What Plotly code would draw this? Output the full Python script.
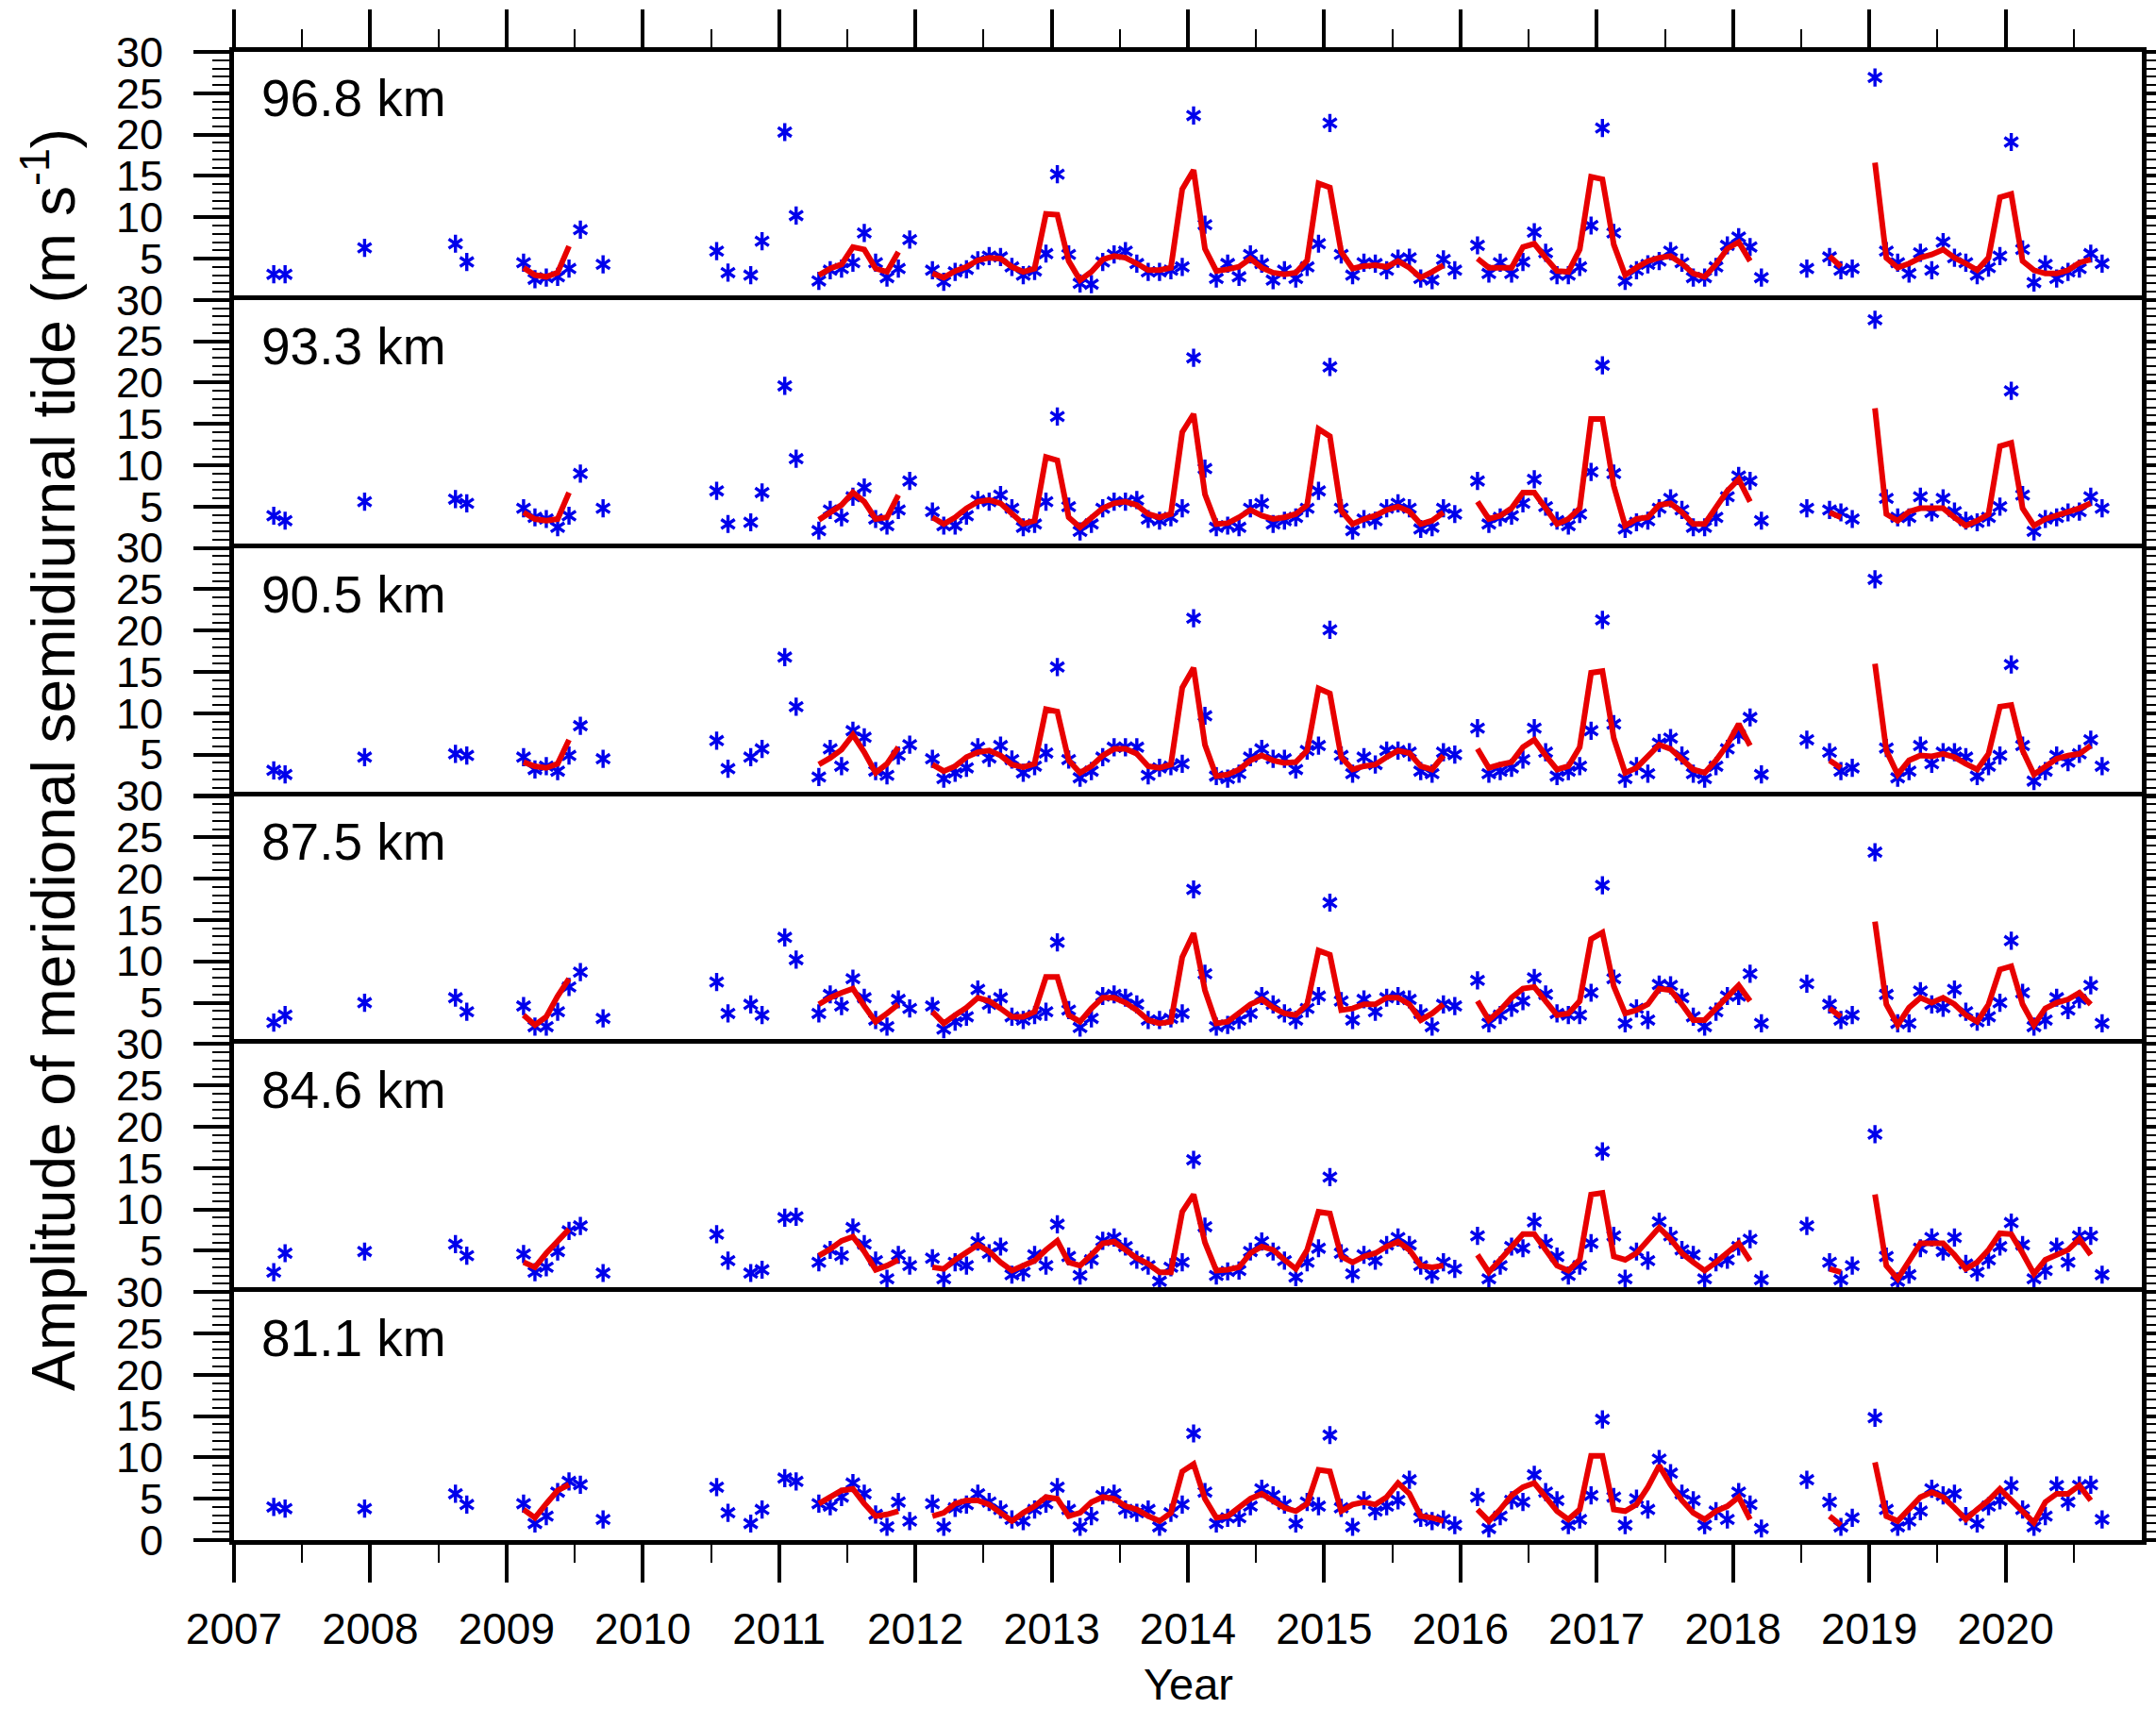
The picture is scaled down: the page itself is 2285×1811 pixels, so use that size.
import plotly.graph_objects as go

FONT = "Liberation Sans, Arial, Helvetica, sans-serif"
STAR_COLOR = "rgb(0,0,235)"
LINE_COLOR = "rgb(232,0,0)"

HEIGHTS = ["96.8 km", "93.3 km", "90.5 km", "87.5 km", "84.6 km", "81.1 km"]
YEARS = list(range(2007, 2021))
HALF_YEARS = [y + 0.5 for y in range(2007, 2021)]
Y_TICKS = [0, 5, 10, 15, 20, 25, 30]

# (year, month) of every monthly amplitude estimate
STAR_MONTHS = (
    [(2007, 4), (2007, 5), (2007, 12), (2008, 8), (2008, 9)]
    + [(2009, m) for m in (2, 3, 4, 5, 6, 7, 9)]
    + [(2010, 7), (2010, 8), (2010, 10), (2010, 11), (2011, 1), (2011, 2)]
    + [(2011, m) for m in range(4, 13)]
    + [(2012, m) for m in range(2, 13)]
    + [(y, m) for y in (2013, 2014, 2015) for m in range(1, 13)]
    + [(2016, m) for m in range(2, 13)]
    + [(2017, m) for m in range(1, 13)]
    + [(2018, 1), (2018, 2), (2018, 3), (2018, 7), (2018, 9), (2018, 10), (2018, 11)]
    + [(2019, m) for m in range(1, 13)]
    + [(2020, m) for m in range(1, 10)]
)

# continuous stretches of the smoothed curve
RED_SEGMENTS = [
    [(2009, m) for m in range(2, 7)],
    [(2011, m) for m in range(4, 12)],
    [(2012, m) for m in range(2, 13)]
    + [(y, m) for y in (2013, 2014) for m in range(1, 13)]
    + [(2015, m) for m in range(1, 12)],
    [(2016, m) for m in range(2, 13)] + [(2017, m) for m in range(1, 13)] + [(2018, 1), (2018, 2)],
    [(2018, 9), (2018, 10)],
    [(2019, m) for m in range(1, 13)] + [(2020, m) for m in range(1, 9)],
]

# monthly amplitudes (m/s), one list per height
STARS_968 = [
    3.1, 3.1, 6.3, 6.8, 4.6,
    4.5, 2.5, 2.7, 2.8, 3.8, 8.5, 4.3,
    5.9, 3.3, 3.0, 7.1, 20.3, 10.2,
    2.3, 3.6, 3.8, 4.5, 8.1, 4.5, 2.7, 3.8, 7.3,
    3.6, 2.2, 3.4, 3.7, 4.8, 5.3, 5.2, 4.0, 3.0, 3.5, 5.6,
    15.2, 5.5, 2.0, 1.9, 4.6, 5.5, 5.9, 4.4, 3.4, 3.4, 3.6, 4.0,
    22.3, 9.1, 2.6, 4.4, 2.8, 5.5, 4.4, 2.4, 3.6, 2.6, 4.0, 6.8,
    21.4, 5.5, 3.0, 4.5, 4.4, 3.6, 5.0, 5.1, 2.6, 2.4, 4.9, 3.6,
    6.6, 3.2, 4.5, 3.2, 4.6, 8.2, 5.7, 3.0, 3.0, 4.0, 9.0,
    20.8, 8.1, 2.3, 3.6, 4.3, 4.7, 5.9, 4.5, 2.7, 2.7, 4.0, 6.6,
    7.6, 6.4, 2.7, 3.8, 5.2, 3.6, 3.8,
    26.9, 5.9, 4.5, 3.2, 5.7, 3.6, 7.0, 5.1, 4.5, 3.0, 3.9, 5.3,
    19.1, 6.1, 2.1, 4.3, 2.6, 3.4, 3.8, 5.6, 4.4,
]
STARS_933 = [
    3.9, 3.3, 5.6, 5.9, 5.4,
    4.8, 3.7, 3.5, 2.5, 3.9, 9.0, 4.8,
    6.9, 2.9, 3.1, 6.7, 19.6, 10.8,
    2.1, 4.6, 3.7, 6.2, 7.3, 3.5, 2.7, 4.6, 8.1,
    4.4, 2.7, 2.7, 3.9, 5.8, 5.6, 6.4, 4.8, 2.5, 2.9, 5.6,
    15.9, 5.0, 2.0, 2.9, 4.8, 5.6, 5.6, 5.8, 3.5, 3.3, 3.7, 4.8,
    23.0, 9.6, 2.5, 2.7, 2.5, 4.8, 5.4, 2.9, 3.3, 3.7, 4.8, 6.9,
    21.9, 4.8, 2.1, 3.5, 3.3, 4.8, 5.4, 4.8, 2.3, 2.5, 4.8, 4.1,
    8.1, 2.9, 3.7, 3.9, 5.4, 8.3, 5.0, 3.3, 2.7, 4.1, 9.2,
    22.1, 9.0, 2.3, 3.1, 3.3, 4.8, 6.0, 4.6, 2.5, 2.5, 3.7, 6.2,
    8.7, 8.1, 3.3, 4.8, 4.6, 4.3, 3.5,
    27.6, 6.0, 3.7, 3.7, 6.2, 4.3, 6.0, 4.4, 3.3, 3.1, 3.7, 5.0,
    19.0, 6.4, 2.0, 3.5, 3.7, 4.3, 4.4, 6.2, 4.8,
]
STARS_905 = [
    3.1, 2.6, 4.7, 5.1, 4.9,
    4.7, 3.2, 3.6, 3.0, 4.9, 8.5, 4.5,
    6.7, 3.3, 4.7, 5.7, 16.8, 10.8,
    2.3, 5.7, 3.6, 7.9, 7.1, 3.0, 2.5, 4.9, 6.2,
    4.5, 2.1, 2.8, 3.4, 5.9, 4.6, 6.1, 4.4, 2.8, 3.6, 5.2,
    15.6, 4.4, 2.2, 3.0, 4.7, 5.9, 5.9, 5.9, 2.5, 3.4, 3.6, 3.9,
    21.5, 9.7, 2.4, 2.1, 2.7, 4.7, 5.7, 4.5, 4.5, 3.2, 5.5, 6.1,
    20.1, 4.9, 2.7, 4.7, 3.8, 5.5, 5.5, 5.3, 3.0, 2.7, 5.3, 5.0,
    8.2, 2.7, 3.0, 3.4, 4.4, 8.2, 5.3, 2.4, 3.0, 3.6, 7.9,
    21.3, 8.7, 2.1, 3.6, 2.7, 6.4, 7.0, 4.9, 2.7, 2.1, 3.6, 5.7,
    7.4, 9.5, 2.6, 6.8, 5.3, 3.0, 3.4,
    26.2, 5.8, 2.2, 3.0, 6.1, 3.9, 5.3, 5.3, 4.7, 2.4, 3.6, 4.9,
    15.9, 6.1, 1.8, 3.0, 4.9, 4.1, 5.1, 6.8, 3.6,
]
STARS_875 = [
    2.6, 3.5, 5.0, 5.6, 3.9,
    4.6, 2.1, 2.1, 3.9, 6.9, 8.7, 3.1,
    7.5, 3.7, 4.8, 3.5, 12.9, 10.2,
    3.7, 6.0, 4.6, 7.9, 5.6, 2.9, 2.1, 5.4, 4.3,
    4.6, 1.8, 2.7, 3.3, 6.6, 4.8, 5.6, 3.3, 2.9, 3.5, 3.9,
    12.3, 4.1, 2.0, 3.1, 5.8, 6.0, 5.6, 4.8, 2.9, 2.9, 3.1, 3.7,
    18.7, 8.5, 2.1, 2.3, 2.9, 3.7, 5.8, 4.8, 3.7, 2.9, 4.3, 5.8,
    17.1, 5.2, 2.9, 5.4, 3.9, 5.6, 5.8, 5.4, 3.7, 2.1, 4.8, 4.6,
    7.7, 2.5, 3.5, 4.4, 5.2, 8.0, 6.0, 3.7, 3.5, 3.5, 6.2,
    19.2, 7.9, 2.5, 4.3, 2.9, 7.2, 7.1, 5.6, 3.3, 2.1, 3.9, 5.8,
    5.8, 8.5, 2.5, 7.3, 4.8, 2.9, 3.5,
    23.2, 6.0, 2.5, 2.5, 6.4, 4.8, 4.4, 6.6, 3.9, 2.7, 3.3, 5.0,
    12.5, 6.2, 2.1, 2.9, 5.6, 4.1, 5.4, 7.1, 2.5,
]
STARS_846 = [
    2.4, 4.7, 4.9, 5.8, 4.4,
    4.6, 2.4, 3.0, 4.9, 7.4, 8.0, 2.3,
    7.0, 3.8, 2.3, 2.7, 9.0, 9.1,
    3.6, 5.1, 4.4, 7.8, 5.8, 3.8, 1.6, 4.5, 3.2,
    4.1, 1.6, 3.6, 3.2, 6.1, 4.7, 5.5, 2.1, 2.4, 4.5, 3.2,
    8.2, 4.3, 2.0, 3.9, 6.2, 6.6, 5.5, 3.9, 3.2, 1.3, 3.0, 3.6,
    16.0, 7.9, 2.0, 2.5, 2.6, 4.9, 6.1, 4.9, 3.8, 1.8, 3.6, 5.3,
    13.9, 4.7, 2.2, 4.5, 3.8, 5.7, 6.6, 5.7, 3.2, 2.1, 3.6, 2.8,
    6.8, 1.6, 3.2, 5.5, 5.3, 8.5, 5.9, 4.3, 2.0, 3.2, 5.9,
    17.0, 6.8, 1.6, 4.9, 3.8, 8.5, 6.8, 5.1, 4.5, 1.6, 3.6, 3.9,
    5.5, 6.4, 1.5, 8.0, 3.6, 1.5, 3.2,
    19.1, 4.3, 1.3, 2.1, 5.3, 6.6, 4.9, 6.6, 3.4, 2.4, 3.9, 5.5,
    8.4, 5.7, 1.6, 2.6, 5.5, 3.6, 6.8, 6.8, 2.1,
]
STARS_811 = [
    4.0, 3.8, 3.8, 5.6, 4.3,
    4.4, 2.0, 2.9, 5.8, 7.1, 6.7, 2.5,
    6.4, 3.3, 2.0, 3.7, 7.5, 7.1,
    4.4, 4.1, 5.2, 6.9, 5.6, 3.1, 1.6, 4.6, 2.3,
    4.4, 1.6, 3.9, 4.3, 5.6, 4.6, 3.7, 2.5, 2.3, 3.7, 4.4,
    6.4, 3.7, 1.6, 2.9, 5.4, 5.6, 3.7, 3.3, 3.7, 1.6, 3.3, 4.3,
    12.9, 5.8, 2.0, 2.7, 2.7, 4.1, 6.2, 5.4, 4.3, 2.0, 4.6, 4.1,
    12.7, 3.9, 1.6, 4.8, 3.5, 4.1, 4.8, 7.3, 2.7, 2.3, 2.5, 1.8,
    5.2, 1.4, 2.9, 4.8, 4.6, 7.9, 5.8, 4.8, 1.8, 2.5, 5.4,
    14.6, 5.2, 1.8, 5.0, 3.7, 9.8, 8.1, 5.6, 4.8, 1.8, 3.5, 2.5,
    5.8, 4.3, 1.4, 7.3, 4.6, 1.6, 2.7,
    14.8, 3.7, 1.6, 2.3, 3.5, 6.2, 5.4, 5.6, 2.9, 2.0, 4.1, 4.8,
    6.6, 3.7, 1.6, 2.9, 6.6, 4.6, 6.6, 6.7, 2.5,
]

# smoothed amplitudes along RED_SEGMENTS, flattened in order
SMOOTH_968 = [
    3.9, 3.0, 2.8, 3.3, 6.5,
    3.0, 3.8, 4.3, 6.4, 6.1, 3.8, 3.4, 5.8,
    3.2, 2.7, 3.5, 4.0, 4.8, 5.1, 5.0, 4.0, 3.4, 3.8, 10.4,
    10.3, 4.7, 2.4, 3.4, 4.9, 5.3, 5.1, 4.4, 3.6, 3.6, 3.9, 13.4,
    15.7, 6.2, 3.5, 3.7, 4.0, 5.0, 3.9, 3.3, 3.1, 3.3, 4.8, 14.1,
    13.6, 5.8, 3.8, 4.1, 4.2, 4.0, 4.7, 3.9, 2.7, 3.4, 4.2,
    5.0, 3.9, 3.9, 3.9, 6.4, 6.8, 5.1, 3.5, 3.4, 6.1, 14.9,
    14.6, 6.7, 3.0, 3.9, 4.7, 5.1, 5.3, 4.4, 3.2, 2.8, 4.3, 6.2,
    7.0, 4.7,
    5.3, 4.0,
    16.6, 5.1, 3.9, 4.4, 5.1, 5.5, 6.1, 5.1, 4.4, 3.6, 5.1, 12.4,
    12.8, 4.7, 3.6, 3.2, 3.2, 3.6, 4.5, 4.9,
]
SMOOTH_933 = [
    4.3, 3.5, 3.3, 3.5, 6.7,
    3.4, 4.4, 5.2, 6.7, 5.6, 3.5, 3.7, 6.4,
    3.7, 2.9, 3.7, 4.8, 5.6, 5.8, 5.4, 4.1, 2.9, 3.3, 11.0,
    10.6, 3.7, 2.5, 3.7, 4.8, 5.4, 5.6, 5.2, 4.1, 3.7, 4.1, 14.0,
    16.2, 6.5, 2.9, 3.0, 3.7, 4.6, 3.9, 3.5, 3.7, 4.1, 5.2, 14.4,
    13.5, 4.5, 2.9, 3.5, 3.9, 4.6, 5.0, 4.4, 2.9, 3.3, 4.3,
    5.6, 3.5, 3.9, 4.8, 6.7, 6.7, 4.8, 2.9, 3.5, 4.8, 15.6,
    15.6, 7.5, 2.7, 3.5, 3.7, 5.2, 5.4, 4.3, 2.9, 2.9, 4.8, 6.9,
    8.3, 5.6,
    4.3, 3.7,
    16.9, 4.1, 3.3, 4.4, 4.8, 4.8, 4.8, 3.7, 2.7, 3.3, 4.1, 12.3,
    12.7, 4.8, 2.7, 3.5, 3.9, 4.3, 4.8, 5.4,
]
SMOOTH_905 = [
    4.1, 3.6, 3.4, 3.9, 6.8,
    3.8, 4.6, 5.6, 7.4, 5.3, 2.8, 3.9, 5.9,
    3.8, 3.0, 3.6, 4.7, 5.3, 5.5, 4.9, 3.8, 3.5, 3.9, 10.5,
    10.2, 4.3, 2.8, 3.6, 4.9, 5.7, 5.7, 5.1, 3.6, 3.4, 3.8, 13.1,
    15.5, 6.2, 2.4, 2.6, 3.2, 4.3, 4.9, 4.3, 4.0, 4.1, 5.5, 13.0,
    12.4, 4.7, 3.2, 3.6, 3.8, 4.7, 5.5, 5.2, 3.6, 3.2, 4.9,
    5.7, 3.4, 3.8, 4.1, 5.9, 6.8, 4.9, 3.2, 3.6, 5.9, 14.9,
    15.1, 7.0, 2.8, 3.4, 4.7, 6.2, 5.7, 4.5, 3.2, 2.8, 4.3, 6.2,
    8.7, 6.1,
    4.3, 3.4,
    16.0, 5.5, 2.6, 4.3, 4.9, 4.8, 5.1, 4.7, 3.9, 3.2, 5.1, 10.8,
    11.0, 5.5, 2.6, 3.6, 4.5, 4.9, 5.1, 6.1,
]
SMOOTH_875 = [
    3.5, 2.3, 3.3, 5.8, 7.9,
    4.8, 5.6, 6.2, 6.7, 4.6, 2.7, 3.7, 4.8,
    3.9, 2.5, 3.5, 4.4, 5.6, 5.2, 4.3, 3.3, 3.3, 3.9, 8.1,
    8.1, 3.5, 2.7, 4.3, 5.6, 5.6, 5.0, 4.1, 2.9, 2.5, 2.7, 10.5,
    13.4, 6.5, 2.5, 2.7, 3.7, 4.8, 5.4, 4.4, 3.7, 3.5, 4.8, 11.3,
    10.8, 4.1, 4.3, 4.8, 4.8, 5.6, 5.6, 4.8, 2.9, 3.7, 4.8,
    5.2, 2.9, 4.1, 5.6, 6.7, 6.9, 5.2, 3.5, 3.7, 5.2, 12.7,
    13.5, 7.0, 3.7, 4.1, 4.8, 6.7, 6.5, 4.8, 2.9, 2.9, 4.3, 5.6,
    7.1, 5.2,
    4.3, 3.3,
    14.8, 4.8, 2.3, 4.4, 5.6, 5.0, 5.6, 4.8, 3.5, 2.7, 4.8, 9.0,
    9.4, 4.8, 2.3, 4.3, 5.0, 5.4, 6.2, 4.8,
]
SMOOTH_846 = [
    3.6, 3.0, 4.7, 6.2, 7.6,
    4.4, 5.2, 6.2, 6.7, 4.9, 2.7, 3.2, 3.9,
    3.0, 2.8, 3.9, 4.9, 5.7, 4.9, 3.6, 2.6, 3.2, 3.8, 5.1,
    6.2, 3.6, 3.2, 4.5, 5.9, 6.1, 5.1, 4.1, 3.4, 2.4, 2.4, 9.7,
    11.8, 6.0, 2.6, 2.7, 3.0, 4.7, 5.5, 5.1, 3.9, 2.8, 5.1, 9.7,
    9.5, 4.3, 3.6, 4.3, 4.7, 5.5, 6.1, 5.1, 3.2, 3.0, 3.2,
    4.5, 2.4, 3.9, 5.5, 7.0, 7.0, 5.1, 3.2, 2.6, 3.9, 11.8,
    12.0, 4.3, 3.9, 4.7, 6.2, 7.8, 6.4, 4.7, 3.6, 2.6, 3.6, 4.7,
    5.9, 3.8,
    2.8, 2.4,
    11.8, 3.2, 1.6, 3.6, 5.9, 5.9, 5.9, 4.5, 2.8, 3.6, 5.1, 7.1,
    7.0, 4.7, 2.2, 3.9, 4.5, 5.1, 6.4, 4.5,
]
SMOOTH_811 = [
    3.7, 2.7, 4.4, 6.0, 6.7,
    4.4, 5.2, 6.0, 6.2, 4.4, 2.9, 3.1, 3.5,
    2.9, 3.3, 4.4, 4.8, 4.8, 4.3, 3.3, 2.3, 3.3, 4.1, 5.2,
    5.0, 2.9, 3.3, 4.6, 5.2, 5.0, 4.1, 3.7, 2.9, 2.3, 3.3, 8.3,
    9.2, 5.0, 2.7, 2.9, 3.9, 5.0, 5.6, 4.8, 3.9, 3.5, 4.4, 8.5,
    8.3, 3.5, 4.3, 4.6, 4.3, 5.2, 6.9, 5.6, 2.9, 2.7, 2.3,
    3.7, 2.3, 3.7, 5.4, 6.4, 6.9, 5.2, 3.5, 2.5, 3.7, 10.2,
    10.2, 3.7, 3.5, 4.3, 6.4, 9.0, 6.7, 4.8, 3.3, 2.5, 3.5, 4.1,
    5.2, 2.5,
    2.9, 1.8,
    9.4, 2.9, 2.3, 3.7, 5.2, 5.8, 5.2, 3.9, 2.5, 3.7, 4.8, 6.2,
    4.8, 3.3, 2.1, 4.6, 5.6, 5.6, 6.6, 4.8,
]

STARS = [STARS_968, STARS_933, STARS_905, STARS_875, STARS_846, STARS_811]
SMOOTH = [SMOOTH_968, SMOOTH_933, SMOOTH_905, SMOOTH_875, SMOOTH_846, SMOOTH_811]


def decimal_year(ym):
    y, m = ym
    return y + (m - 0.5) / 12.0


star_x = [decimal_year(ym) for ym in STAR_MONTHS]


def smooth_xy(values):
    xs, ys, i = [], [], 0
    for seg in RED_SEGMENTS:
        for ym in seg:
            xs.append(decimal_year(ym))
            ys.append(values[i])
            i += 1
        xs.append(None)
        ys.append(None)
    return xs, ys


fig = go.Figure()
n = len(HEIGHTS)

for k in range(n):
    xa = "x" if k == 0 else f"x{k + 1}"
    ya = "y" if k == 0 else f"y{k + 1}"
    # six-armed asterisk built from two three-armed glyphs
    for sym in ("y-up-open", "y-down-open"):
        fig.add_trace(go.Scatter(
            x=star_x, y=STARS[k], mode="markers", xaxis=xa, yaxis=ya,
            marker=dict(symbol=sym, size=12, color=STAR_COLOR,
                        line=dict(width=3.4, color=STAR_COLOR)),
            showlegend=False, hoverinfo="skip",
        ))
    sx, sy = smooth_xy(SMOOTH[k])
    fig.add_trace(go.Scatter(
        x=sx, y=sy, mode="lines", xaxis=xa, yaxis=ya,
        line=dict(color=LINE_COLOR, width=6), connectgaps=False,
        showlegend=False, hoverinfo="skip",
    ))

tick_font = dict(family=FONT, size=45, color="black")
layout_axes = {}
for k in range(n):
    top = 1 - k / n
    bot = 1 - (k + 1) / n
    xkey = "xaxis" if k == 0 else f"xaxis{k + 1}"
    ykey = "yaxis" if k == 0 else f"yaxis{k + 1}"
    xa = "x" if k == 0 else f"x{k + 1}"
    ya = "y" if k == 0 else f"y{k + 1}"
    # each panel draws only its upper frame edge; the bottom panel also
    # closes the figure at the bottom
    xax = dict(domain=[0, 1], anchor=ya, range=[2007, 2021], showline=True,
               linewidth=5, linecolor="black", showgrid=False, automargin=False,
               zeroline=False, tickcolor="black")
    if k == 0:
        xax.update(side="top", mirror=False, ticks="outside", tickvals=YEARS,
                   ticklen=40, tickwidth=4, showticklabels=False,
                   minor=dict(tickvals=HALF_YEARS, ticks="outside", ticklen=19,
                              tickwidth=2, tickcolor="black"))
    elif k == n - 1:
        xax.update(side="bottom", mirror=True, ticks="outside", tickvals=YEARS,
                   ticktext=[str(y) for y in YEARS], ticklen=40, tickwidth=4,
                   tickfont=dict(family=FONT, size=46, color="black"),
                   ticklabelstandoff=10,
                   minor=dict(tickvals=HALF_YEARS, ticks="outside", ticklen=19,
                              tickwidth=2, tickcolor="black"))
    else:
        xax.update(side="top", mirror=False, ticks="", showticklabels=False)
    layout_axes[xkey] = xax

    labels = [str(v) for v in Y_TICKS]
    if k < n - 1:
        labels[0] = ""
    layout_axes[ykey] = dict(
        domain=[bot, top], anchor=xa, range=[0, 30], showline=True,
        linewidth=5, linecolor="black", mirror="allticks", ticks="outside",
        tickvals=Y_TICKS, ticktext=labels, ticklen=38, tickwidth=4,
        tickcolor="black", tickfont=tick_font, ticklabelstandoff=23,
        minor=dict(tick0=0, dtick=1, ticks="outside", ticklen=18, tickwidth=2,
                   tickcolor="black"),
        showgrid=False, zeroline=False, automargin=False,
    )

annotations = []
for k, name in enumerate(HEIGHTS):
    annotations.append(dict(
        text=name, xref="paper", yref="paper",
        x=0.0134, y=1 - (49 + k * 262.8) / 1577, xanchor="left", yanchor="middle",
        showarrow=False, font=dict(family=FONT, size=55, color="black"),
    ))
annotations.append(dict(
    text="Amplitude of meridional semidiurnal tide (m s<sup>-1</sup>)",
    xref="paper", yref="paper", x=(52 - 248) / 2022, y=1 - (805 - 55) / 1577,
    xanchor="center", yanchor="middle", textangle=-90, showarrow=False,
    font=dict(family=FONT, size=64, color="black"),
))
annotations.append(dict(
    text="Year", xref="paper", yref="paper", x=0.5, y=1 - (1784 - 55) / 1577,
    xanchor="center", yanchor="middle", showarrow=False,
    font=dict(family=FONT, size=47, color="black"),
))

fig.update_layout(
    width=2285, height=1811, autosize=False,
    margin=dict(l=248, r=15, t=55, b=179, autoexpand=False),
    paper_bgcolor="white", plot_bgcolor="white",
    annotations=annotations, showlegend=False,
    **layout_axes,
)

fig.write_html("out.html")
